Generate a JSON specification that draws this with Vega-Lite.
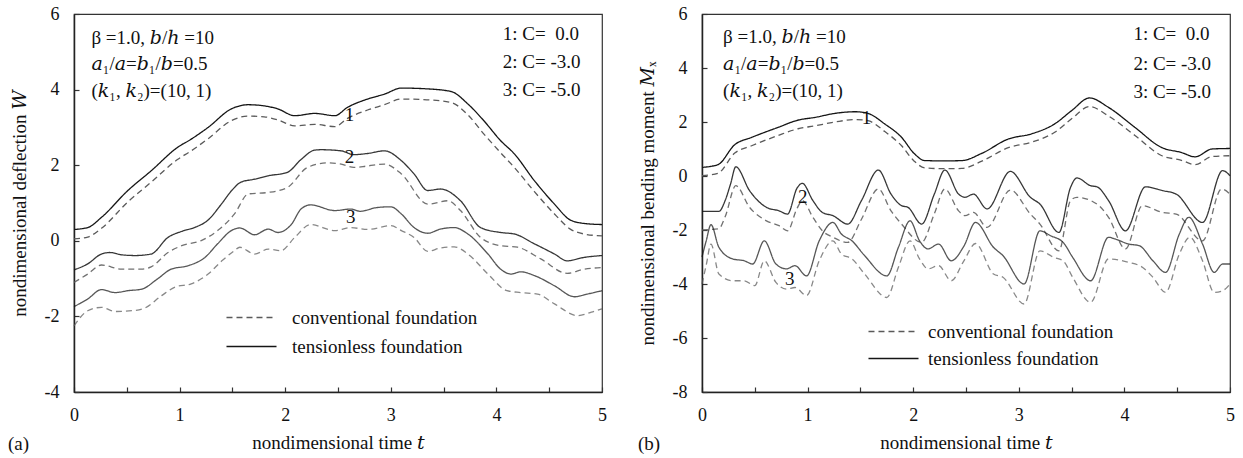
{
  "$schema": "https://vega.github.io/schema/vega-lite/v6.json",
  "background": "white",
  "padding": {"left": 7, "top": 4, "right": 8, "bottom": 4},
  "bounds": "flush",
  "spacing": 100,
  "config": {
    "font": "Liberation Serif",
    "view": {"stroke": "#333", "strokeWidth": 1.2},
    "axis": {
      "grid": false, "domainColor": "#222", "domainWidth": 1.5,
      "tickColor": "#333", "tickSize": -5, "tickWidth": 1.2,
      "labelFont": "Liberation Serif", "labelFontSize": 18, "labelColor": "#111",
      "labelFlush": false, "labelOverlap": false,
      "titleFont": "Liberation Serif, DejaVu Serif", "titleFontSize": 19, "titleFontWeight": "normal", "titleColor": "#111"
    },
    "axisX": {"labelPadding": 19, "titleY": 50, "titleBaseline": "middle"},
    "axisY": {"labelPadding": 20, "titleX": -55, "titleBaseline": "middle"},
    "legend": {"orient": "none", "title": null, "padding": 0, "symbolType": "M-3,0H3", "symbolSize": 278, "symbolStrokeWidth": 1.3, "labelFont": "Liberation Serif", "labelFontSize": 19, "labelColor": "#111", "labelLimit": 400},
    "text": {"font": "Liberation Serif, DejaVu Serif", "fontSize": 19, "color": "#111"}
  },
  "datasets": {
    "deflection": [
      {"curve":"1","foundation":"tensionless foundation","t":0,"value":0.30},
      {"curve":"1","foundation":"tensionless foundation","t":0.13,"value":0.35},
      {"curve":"1","foundation":"tensionless foundation","t":0.26,"value":0.62},
      {"curve":"1","foundation":"tensionless foundation","t":0.51,"value":1.33},
      {"curve":"1","foundation":"tensionless foundation","t":0.73,"value":1.85},
      {"curve":"1","foundation":"tensionless foundation","t":0.98,"value":2.47},
      {"curve":"1","foundation":"tensionless foundation","t":1.11,"value":2.69},
      {"curve":"1","foundation":"tensionless foundation","t":1.27,"value":3.0},
      {"curve":"1","foundation":"tensionless foundation","t":1.49,"value":3.49},
      {"curve":"1","foundation":"tensionless foundation","t":1.65,"value":3.6},
      {"curve":"1","foundation":"tensionless foundation","t":1.8,"value":3.57},
      {"curve":"1","foundation":"tensionless foundation","t":1.93,"value":3.49},
      {"curve":"1","foundation":"tensionless foundation","t":2.09,"value":3.31},
      {"curve":"1","foundation":"tensionless foundation","t":2.28,"value":3.37},
      {"curve":"1","foundation":"tensionless foundation","t":2.47,"value":3.31},
      {"curve":"1","foundation":"tensionless foundation","t":2.59,"value":3.53},
      {"curve":"1","foundation":"tensionless foundation","t":2.78,"value":3.75},
      {"curve":"1","foundation":"tensionless foundation","t":2.94,"value":3.88},
      {"curve":"1","foundation":"tensionless foundation","t":3.1,"value":4.04},
      {"curve":"1","foundation":"tensionless foundation","t":3.34,"value":4.02},
      {"curve":"1","foundation":"tensionless foundation","t":3.57,"value":3.95},
      {"curve":"1","foundation":"tensionless foundation","t":3.73,"value":3.62},
      {"curve":"1","foundation":"tensionless foundation","t":3.88,"value":3.18},
      {"curve":"1","foundation":"tensionless foundation","t":4.04,"value":2.65},
      {"curve":"1","foundation":"tensionless foundation","t":4.17,"value":2.3},
      {"curve":"1","foundation":"tensionless foundation","t":4.36,"value":1.59},
      {"curve":"1","foundation":"tensionless foundation","t":4.55,"value":0.97},
      {"curve":"1","foundation":"tensionless foundation","t":4.7,"value":0.55},
      {"curve":"1","foundation":"tensionless foundation","t":4.83,"value":0.46},
      {"curve":"1","foundation":"tensionless foundation","t":5.0,"value":0.43},
      {"curve":"1","foundation":"conventional foundation","t":0,"value":0.05},
      {"curve":"1","foundation":"conventional foundation","t":0.13,"value":0.1},
      {"curve":"1","foundation":"conventional foundation","t":0.26,"value":0.33},
      {"curve":"1","foundation":"conventional foundation","t":0.51,"value":1.03},
      {"curve":"1","foundation":"conventional foundation","t":0.73,"value":1.55},
      {"curve":"1","foundation":"conventional foundation","t":0.98,"value":2.15},
      {"curve":"1","foundation":"conventional foundation","t":1.11,"value":2.38},
      {"curve":"1","foundation":"conventional foundation","t":1.27,"value":2.7},
      {"curve":"1","foundation":"conventional foundation","t":1.49,"value":3.18},
      {"curve":"1","foundation":"conventional foundation","t":1.65,"value":3.3},
      {"curve":"1","foundation":"conventional foundation","t":1.8,"value":3.28},
      {"curve":"1","foundation":"conventional foundation","t":1.93,"value":3.2},
      {"curve":"1","foundation":"conventional foundation","t":2.09,"value":3.04},
      {"curve":"1","foundation":"conventional foundation","t":2.28,"value":3.08},
      {"curve":"1","foundation":"conventional foundation","t":2.47,"value":3.02},
      {"curve":"1","foundation":"conventional foundation","t":2.59,"value":3.24},
      {"curve":"1","foundation":"conventional foundation","t":2.78,"value":3.46},
      {"curve":"1","foundation":"conventional foundation","t":2.94,"value":3.6},
      {"curve":"1","foundation":"conventional foundation","t":3.1,"value":3.75},
      {"curve":"1","foundation":"conventional foundation","t":3.34,"value":3.73},
      {"curve":"1","foundation":"conventional foundation","t":3.57,"value":3.66},
      {"curve":"1","foundation":"conventional foundation","t":3.73,"value":3.33},
      {"curve":"1","foundation":"conventional foundation","t":3.88,"value":2.83},
      {"curve":"1","foundation":"conventional foundation","t":4.04,"value":2.33},
      {"curve":"1","foundation":"conventional foundation","t":4.17,"value":1.94},
      {"curve":"1","foundation":"conventional foundation","t":4.36,"value":1.3},
      {"curve":"1","foundation":"conventional foundation","t":4.55,"value":0.71},
      {"curve":"1","foundation":"conventional foundation","t":4.7,"value":0.31},
      {"curve":"1","foundation":"conventional foundation","t":4.83,"value":0.18},
      {"curve":"1","foundation":"conventional foundation","t":5.0,"value":0.13},
      {"curve":"2","foundation":"tensionless foundation","t":0,"value":-0.77},
      {"curve":"2","foundation":"tensionless foundation","t":0.13,"value":-0.61},
      {"curve":"2","foundation":"tensionless foundation","t":0.26,"value":-0.35},
      {"curve":"2","foundation":"tensionless foundation","t":0.34,"value":-0.31},
      {"curve":"2","foundation":"tensionless foundation","t":0.45,"value":-0.37},
      {"curve":"2","foundation":"tensionless foundation","t":0.58,"value":-0.39},
      {"curve":"2","foundation":"tensionless foundation","t":0.73,"value":-0.35},
      {"curve":"2","foundation":"tensionless foundation","t":0.89,"value":0.09},
      {"curve":"2","foundation":"tensionless foundation","t":1.02,"value":0.25},
      {"curve":"2","foundation":"tensionless foundation","t":1.14,"value":0.35},
      {"curve":"2","foundation":"tensionless foundation","t":1.27,"value":0.55},
      {"curve":"2","foundation":"tensionless foundation","t":1.39,"value":0.95},
      {"curve":"2","foundation":"tensionless foundation","t":1.5,"value":1.35},
      {"curve":"2","foundation":"tensionless foundation","t":1.58,"value":1.55},
      {"curve":"2","foundation":"tensionless foundation","t":1.71,"value":1.63},
      {"curve":"2","foundation":"tensionless foundation","t":1.84,"value":1.72},
      {"curve":"2","foundation":"tensionless foundation","t":2.02,"value":1.81},
      {"curve":"2","foundation":"tensionless foundation","t":2.15,"value":2.15},
      {"curve":"2","foundation":"tensionless foundation","t":2.28,"value":2.4},
      {"curve":"2","foundation":"tensionless foundation","t":2.34,"value":2.41},
      {"curve":"2","foundation":"tensionless foundation","t":2.53,"value":2.38},
      {"curve":"2","foundation":"tensionless foundation","t":2.65,"value":2.28},
      {"curve":"2","foundation":"tensionless foundation","t":2.78,"value":2.31},
      {"curve":"2","foundation":"tensionless foundation","t":2.94,"value":2.38},
      {"curve":"2","foundation":"tensionless foundation","t":3.1,"value":2.12},
      {"curve":"2","foundation":"tensionless foundation","t":3.22,"value":1.77},
      {"curve":"2","foundation":"tensionless foundation","t":3.35,"value":1.33},
      {"curve":"2","foundation":"tensionless foundation","t":3.47,"value":1.37},
      {"curve":"2","foundation":"tensionless foundation","t":3.66,"value":1.06},
      {"curve":"2","foundation":"tensionless foundation","t":3.85,"value":0.35},
      {"curve":"2","foundation":"tensionless foundation","t":4.04,"value":0.22},
      {"curve":"2","foundation":"tensionless foundation","t":4.17,"value":0.18},
      {"curve":"2","foundation":"tensionless foundation","t":4.36,"value":-0.08},
      {"curve":"2","foundation":"tensionless foundation","t":4.55,"value":-0.35},
      {"curve":"2","foundation":"tensionless foundation","t":4.67,"value":-0.53},
      {"curve":"2","foundation":"tensionless foundation","t":4.83,"value":-0.44},
      {"curve":"2","foundation":"tensionless foundation","t":5.0,"value":-0.39},
      {"curve":"2","foundation":"conventional foundation","t":0,"value":-1.1},
      {"curve":"2","foundation":"conventional foundation","t":0.13,"value":-0.88},
      {"curve":"2","foundation":"conventional foundation","t":0.26,"value":-0.64},
      {"curve":"2","foundation":"conventional foundation","t":0.45,"value":-0.75},
      {"curve":"2","foundation":"conventional foundation","t":0.64,"value":-0.75},
      {"curve":"2","foundation":"conventional foundation","t":0.73,"value":-0.69},
      {"curve":"2","foundation":"conventional foundation","t":0.89,"value":-0.31},
      {"curve":"2","foundation":"conventional foundation","t":1.02,"value":-0.13},
      {"curve":"2","foundation":"conventional foundation","t":1.2,"value":0.0},
      {"curve":"2","foundation":"conventional foundation","t":1.36,"value":0.27},
      {"curve":"2","foundation":"conventional foundation","t":1.52,"value":0.71},
      {"curve":"2","foundation":"conventional foundation","t":1.65,"value":1.24},
      {"curve":"2","foundation":"conventional foundation","t":1.84,"value":1.28},
      {"curve":"2","foundation":"conventional foundation","t":2.02,"value":1.41},
      {"curve":"2","foundation":"conventional foundation","t":2.21,"value":1.94},
      {"curve":"2","foundation":"conventional foundation","t":2.4,"value":2.06},
      {"curve":"2","foundation":"conventional foundation","t":2.53,"value":2.03},
      {"curve":"2","foundation":"conventional foundation","t":2.65,"value":1.94},
      {"curve":"2","foundation":"conventional foundation","t":2.78,"value":1.98},
      {"curve":"2","foundation":"conventional foundation","t":2.94,"value":2.03},
      {"curve":"2","foundation":"conventional foundation","t":3.1,"value":1.77},
      {"curve":"2","foundation":"conventional foundation","t":3.35,"value":0.97},
      {"curve":"2","foundation":"conventional foundation","t":3.54,"value":1.06},
      {"curve":"2","foundation":"conventional foundation","t":3.66,"value":0.8},
      {"curve":"2","foundation":"conventional foundation","t":3.85,"value":0.09},
      {"curve":"2","foundation":"conventional foundation","t":4.04,"value":-0.13},
      {"curve":"2","foundation":"conventional foundation","t":4.2,"value":-0.17},
      {"curve":"2","foundation":"conventional foundation","t":4.42,"value":-0.48},
      {"curve":"2","foundation":"conventional foundation","t":4.67,"value":-0.86},
      {"curve":"2","foundation":"conventional foundation","t":4.83,"value":-0.75},
      {"curve":"2","foundation":"conventional foundation","t":5.0,"value":-0.71},
      {"curve":"3","foundation":"tensionless foundation","t":0,"value":-1.74},
      {"curve":"3","foundation":"tensionless foundation","t":0.13,"value":-1.54},
      {"curve":"3","foundation":"tensionless foundation","t":0.26,"value":-1.29},
      {"curve":"3","foundation":"tensionless foundation","t":0.39,"value":-1.37},
      {"curve":"3","foundation":"tensionless foundation","t":0.51,"value":-1.32},
      {"curve":"3","foundation":"tensionless foundation","t":0.64,"value":-1.28},
      {"curve":"3","foundation":"tensionless foundation","t":0.79,"value":-1.01},
      {"curve":"3","foundation":"tensionless foundation","t":0.92,"value":-0.75},
      {"curve":"3","foundation":"tensionless foundation","t":1.08,"value":-0.66},
      {"curve":"3","foundation":"tensionless foundation","t":1.24,"value":-0.44},
      {"curve":"3","foundation":"tensionless foundation","t":1.36,"value":-0.08},
      {"curve":"3","foundation":"tensionless foundation","t":1.49,"value":0.27},
      {"curve":"3","foundation":"tensionless foundation","t":1.57,"value":0.34},
      {"curve":"3","foundation":"tensionless foundation","t":1.71,"value":0.16},
      {"curve":"3","foundation":"tensionless foundation","t":1.84,"value":0.31},
      {"curve":"3","foundation":"tensionless foundation","t":1.93,"value":0.22},
      {"curve":"3","foundation":"tensionless foundation","t":2.06,"value":0.44},
      {"curve":"3","foundation":"tensionless foundation","t":2.15,"value":0.84},
      {"curve":"3","foundation":"tensionless foundation","t":2.24,"value":0.95},
      {"curve":"3","foundation":"tensionless foundation","t":2.47,"value":0.8},
      {"curve":"3","foundation":"tensionless foundation","t":2.62,"value":0.84},
      {"curve":"3","foundation":"tensionless foundation","t":2.71,"value":0.78},
      {"curve":"3","foundation":"tensionless foundation","t":2.87,"value":0.88},
      {"curve":"3","foundation":"tensionless foundation","t":3.0,"value":0.9},
      {"curve":"3","foundation":"tensionless foundation","t":3.1,"value":0.71},
      {"curve":"3","foundation":"tensionless foundation","t":3.22,"value":0.35},
      {"curve":"3","foundation":"tensionless foundation","t":3.35,"value":0.2},
      {"curve":"3","foundation":"tensionless foundation","t":3.47,"value":0.31},
      {"curve":"3","foundation":"tensionless foundation","t":3.6,"value":0.35},
      {"curve":"3","foundation":"tensionless foundation","t":3.73,"value":0.18},
      {"curve":"3","foundation":"tensionless foundation","t":3.92,"value":-0.35},
      {"curve":"3","foundation":"tensionless foundation","t":4.04,"value":-0.75},
      {"curve":"3","foundation":"tensionless foundation","t":4.14,"value":-0.88},
      {"curve":"3","foundation":"tensionless foundation","t":4.23,"value":-0.82},
      {"curve":"3","foundation":"tensionless foundation","t":4.36,"value":-0.92},
      {"curve":"3","foundation":"tensionless foundation","t":4.55,"value":-1.19},
      {"curve":"3","foundation":"tensionless foundation","t":4.74,"value":-1.48},
      {"curve":"3","foundation":"tensionless foundation","t":4.86,"value":-1.41},
      {"curve":"3","foundation":"tensionless foundation","t":5.0,"value":-1.32},
      {"curve":"3","foundation":"conventional foundation","t":0,"value":-2.25},
      {"curve":"3","foundation":"conventional foundation","t":0.13,"value":-1.85},
      {"curve":"3","foundation":"conventional foundation","t":0.26,"value":-1.76},
      {"curve":"3","foundation":"conventional foundation","t":0.39,"value":-1.87},
      {"curve":"3","foundation":"conventional foundation","t":0.58,"value":-1.84},
      {"curve":"3","foundation":"conventional foundation","t":0.67,"value":-1.78},
      {"curve":"3","foundation":"conventional foundation","t":0.83,"value":-1.45},
      {"curve":"3","foundation":"conventional foundation","t":0.96,"value":-1.22},
      {"curve":"3","foundation":"conventional foundation","t":1.11,"value":-1.14},
      {"curve":"3","foundation":"conventional foundation","t":1.27,"value":-0.88},
      {"curve":"3","foundation":"conventional foundation","t":1.4,"value":-0.53},
      {"curve":"3","foundation":"conventional foundation","t":1.52,"value":-0.26},
      {"curve":"3","foundation":"conventional foundation","t":1.57,"value":-0.17},
      {"curve":"3","foundation":"conventional foundation","t":1.71,"value":-0.35},
      {"curve":"3","foundation":"conventional foundation","t":1.84,"value":-0.22},
      {"curve":"3","foundation":"conventional foundation","t":1.96,"value":-0.26},
      {"curve":"3","foundation":"conventional foundation","t":2.09,"value":0.09},
      {"curve":"3","foundation":"conventional foundation","t":2.24,"value":0.43},
      {"curve":"3","foundation":"conventional foundation","t":2.47,"value":0.27},
      {"curve":"3","foundation":"conventional foundation","t":2.62,"value":0.35},
      {"curve":"3","foundation":"conventional foundation","t":2.78,"value":0.3},
      {"curve":"3","foundation":"conventional foundation","t":3.0,"value":0.4},
      {"curve":"3","foundation":"conventional foundation","t":3.1,"value":0.27},
      {"curve":"3","foundation":"conventional foundation","t":3.22,"value":0.09},
      {"curve":"3","foundation":"conventional foundation","t":3.35,"value":-0.28},
      {"curve":"3","foundation":"conventional foundation","t":3.47,"value":-0.19},
      {"curve":"3","foundation":"conventional foundation","t":3.6,"value":-0.16},
      {"curve":"3","foundation":"conventional foundation","t":3.73,"value":-0.35},
      {"curve":"3","foundation":"conventional foundation","t":3.92,"value":-0.88},
      {"curve":"3","foundation":"conventional foundation","t":4.1,"value":-1.32},
      {"curve":"3","foundation":"conventional foundation","t":4.23,"value":-1.37},
      {"curve":"3","foundation":"conventional foundation","t":4.39,"value":-1.41},
      {"curve":"3","foundation":"conventional foundation","t":4.55,"value":-1.67},
      {"curve":"3","foundation":"conventional foundation","t":4.77,"value":-1.98},
      {"curve":"3","foundation":"conventional foundation","t":4.9,"value":-1.89},
      {"curve":"3","foundation":"conventional foundation","t":5.0,"value":-1.8}
    ],
    "moment": [
      {"curve":"1","foundation":"tensionless foundation","t":0,"value":0.32},
      {"curve":"1","foundation":"tensionless foundation","t":0.15,"value":0.42},
      {"curve":"1","foundation":"tensionless foundation","t":0.31,"value":1.16},
      {"curve":"1","foundation":"tensionless foundation","t":0.47,"value":1.43},
      {"curve":"1","foundation":"tensionless foundation","t":0.72,"value":1.8},
      {"curve":"1","foundation":"tensionless foundation","t":0.91,"value":2.07},
      {"curve":"1","foundation":"tensionless foundation","t":1.07,"value":2.17},
      {"curve":"1","foundation":"tensionless foundation","t":1.26,"value":2.32},
      {"curve":"1","foundation":"tensionless foundation","t":1.45,"value":2.38},
      {"curve":"1","foundation":"tensionless foundation","t":1.57,"value":2.32},
      {"curve":"1","foundation":"tensionless foundation","t":1.73,"value":1.93},
      {"curve":"1","foundation":"tensionless foundation","t":1.89,"value":1.43},
      {"curve":"1","foundation":"tensionless foundation","t":2.01,"value":0.83},
      {"curve":"1","foundation":"tensionless foundation","t":2.11,"value":0.57},
      {"curve":"1","foundation":"tensionless foundation","t":2.3,"value":0.56},
      {"curve":"1","foundation":"tensionless foundation","t":2.46,"value":0.57},
      {"curve":"1","foundation":"tensionless foundation","t":2.65,"value":0.84},
      {"curve":"1","foundation":"tensionless foundation","t":2.9,"value":1.37},
      {"curve":"1","foundation":"tensionless foundation","t":3.12,"value":1.56},
      {"curve":"1","foundation":"tensionless foundation","t":3.34,"value":1.93},
      {"curve":"1","foundation":"tensionless foundation","t":3.5,"value":2.42},
      {"curve":"1","foundation":"tensionless foundation","t":3.67,"value":2.89},
      {"curve":"1","foundation":"tensionless foundation","t":3.85,"value":2.54},
      {"curve":"1","foundation":"tensionless foundation","t":4.1,"value":1.8},
      {"curve":"1","foundation":"tensionless foundation","t":4.35,"value":1.06},
      {"curve":"1","foundation":"tensionless foundation","t":4.54,"value":0.87},
      {"curve":"1","foundation":"tensionless foundation","t":4.67,"value":0.71},
      {"curve":"1","foundation":"tensionless foundation","t":4.83,"value":1.0},
      {"curve":"1","foundation":"tensionless foundation","t":5.0,"value":1.02},
      {"curve":"1","foundation":"conventional foundation","t":0,"value":0.01},
      {"curve":"1","foundation":"conventional foundation","t":0.15,"value":0.1},
      {"curve":"1","foundation":"conventional foundation","t":0.31,"value":0.85},
      {"curve":"1","foundation":"conventional foundation","t":0.47,"value":1.12},
      {"curve":"1","foundation":"conventional foundation","t":0.72,"value":1.5},
      {"curve":"1","foundation":"conventional foundation","t":0.91,"value":1.75},
      {"curve":"1","foundation":"conventional foundation","t":1.07,"value":1.86},
      {"curve":"1","foundation":"conventional foundation","t":1.26,"value":2.0},
      {"curve":"1","foundation":"conventional foundation","t":1.45,"value":2.09},
      {"curve":"1","foundation":"conventional foundation","t":1.57,"value":2.05},
      {"curve":"1","foundation":"conventional foundation","t":1.73,"value":1.65},
      {"curve":"1","foundation":"conventional foundation","t":1.89,"value":1.12},
      {"curve":"1","foundation":"conventional foundation","t":2.01,"value":0.55},
      {"curve":"1","foundation":"conventional foundation","t":2.11,"value":0.3},
      {"curve":"1","foundation":"conventional foundation","t":2.3,"value":0.27},
      {"curve":"1","foundation":"conventional foundation","t":2.46,"value":0.28},
      {"curve":"1","foundation":"conventional foundation","t":2.65,"value":0.55},
      {"curve":"1","foundation":"conventional foundation","t":2.9,"value":1.05},
      {"curve":"1","foundation":"conventional foundation","t":3.12,"value":1.25},
      {"curve":"1","foundation":"conventional foundation","t":3.34,"value":1.62},
      {"curve":"1","foundation":"conventional foundation","t":3.5,"value":2.12},
      {"curve":"1","foundation":"conventional foundation","t":3.67,"value":2.57},
      {"curve":"1","foundation":"conventional foundation","t":3.85,"value":2.22},
      {"curve":"1","foundation":"conventional foundation","t":4.1,"value":1.5},
      {"curve":"1","foundation":"conventional foundation","t":4.35,"value":0.76},
      {"curve":"1","foundation":"conventional foundation","t":4.54,"value":0.58},
      {"curve":"1","foundation":"conventional foundation","t":4.67,"value":0.42},
      {"curve":"1","foundation":"conventional foundation","t":4.83,"value":0.72},
      {"curve":"1","foundation":"conventional foundation","t":5.0,"value":0.75},
      {"curve":"2","foundation":"tensionless foundation","t":0,"value":-1.31},
      {"curve":"2","foundation":"tensionless foundation","t":0.16,"value":-1.31},
      {"curve":"2","foundation":"tensionless foundation","t":0.22,"value":-0.9},
      {"curve":"2","foundation":"tensionless foundation","t":0.27,"value":-0.3},
      {"curve":"2","foundation":"tensionless foundation","t":0.32,"value":0.34},
      {"curve":"2","foundation":"tensionless foundation","t":0.45,"value":-0.54},
      {"curve":"2","foundation":"tensionless foundation","t":0.61,"value":-1.16},
      {"curve":"2","foundation":"tensionless foundation","t":0.73,"value":-1.29},
      {"curve":"2","foundation":"tensionless foundation","t":0.81,"value":-1.41},
      {"curve":"2","foundation":"tensionless foundation","t":0.9,"value":-0.45},
      {"curve":"2","foundation":"tensionless foundation","t":0.95,"value":-0.27},
      {"curve":"2","foundation":"tensionless foundation","t":1.05,"value":-0.91},
      {"curve":"2","foundation":"tensionless foundation","t":1.14,"value":-1.35},
      {"curve":"2","foundation":"tensionless foundation","t":1.24,"value":-1.47},
      {"curve":"2","foundation":"tensionless foundation","t":1.38,"value":-1.78},
      {"curve":"2","foundation":"tensionless foundation","t":1.51,"value":-0.91},
      {"curve":"2","foundation":"tensionless foundation","t":1.67,"value":0.22},
      {"curve":"2","foundation":"tensionless foundation","t":1.79,"value":-0.67},
      {"curve":"2","foundation":"tensionless foundation","t":1.89,"value":-1.1},
      {"curve":"2","foundation":"tensionless foundation","t":1.95,"value":-1.16},
      {"curve":"2","foundation":"tensionless foundation","t":2.08,"value":-1.78},
      {"curve":"2","foundation":"tensionless foundation","t":2.2,"value":-0.67},
      {"curve":"2","foundation":"tensionless foundation","t":2.3,"value":0.22},
      {"curve":"2","foundation":"tensionless foundation","t":2.43,"value":-0.67},
      {"curve":"2","foundation":"tensionless foundation","t":2.49,"value":-0.79},
      {"curve":"2","foundation":"tensionless foundation","t":2.57,"value":-0.67},
      {"curve":"2","foundation":"tensionless foundation","t":2.7,"value":-1.22},
      {"curve":"2","foundation":"tensionless foundation","t":2.92,"value":0.17},
      {"curve":"2","foundation":"tensionless foundation","t":3.11,"value":-0.79},
      {"curve":"2","foundation":"tensionless foundation","t":3.2,"value":-1.04},
      {"curve":"2","foundation":"tensionless foundation","t":3.38,"value":-2.09},
      {"curve":"2","foundation":"tensionless foundation","t":3.49,"value":-0.42},
      {"curve":"2","foundation":"tensionless foundation","t":3.55,"value":-0.07},
      {"curve":"2","foundation":"tensionless foundation","t":3.68,"value":-0.36},
      {"curve":"2","foundation":"tensionless foundation","t":3.74,"value":-0.4},
      {"curve":"2","foundation":"tensionless foundation","t":3.85,"value":-0.91},
      {"curve":"2","foundation":"tensionless foundation","t":4.01,"value":-2.03},
      {"curve":"2","foundation":"tensionless foundation","t":4.2,"value":-0.4},
      {"curve":"2","foundation":"tensionless foundation","t":4.36,"value":-0.54},
      {"curve":"2","foundation":"tensionless foundation","t":4.49,"value":-0.67},
      {"curve":"2","foundation":"tensionless foundation","t":4.74,"value":-1.72},
      {"curve":"2","foundation":"tensionless foundation","t":4.93,"value":0.2},
      {"curve":"2","foundation":"tensionless foundation","t":5.0,"value":0.01},
      {"curve":"2","foundation":"conventional foundation","t":0,"value":-2.0},
      {"curve":"2","foundation":"conventional foundation","t":0.16,"value":-1.95},
      {"curve":"2","foundation":"conventional foundation","t":0.22,"value":-1.5},
      {"curve":"2","foundation":"conventional foundation","t":0.32,"value":-0.36},
      {"curve":"2","foundation":"conventional foundation","t":0.45,"value":-1.16},
      {"curve":"2","foundation":"conventional foundation","t":0.61,"value":-1.66},
      {"curve":"2","foundation":"conventional foundation","t":0.73,"value":-1.84},
      {"curve":"2","foundation":"conventional foundation","t":0.81,"value":-2.03},
      {"curve":"2","foundation":"conventional foundation","t":0.9,"value":-1.2},
      {"curve":"2","foundation":"conventional foundation","t":0.95,"value":-0.91},
      {"curve":"2","foundation":"conventional foundation","t":1.05,"value":-1.53},
      {"curve":"2","foundation":"conventional foundation","t":1.14,"value":-2.03},
      {"curve":"2","foundation":"conventional foundation","t":1.24,"value":-2.27},
      {"curve":"2","foundation":"conventional foundation","t":1.38,"value":-2.46},
      {"curve":"2","foundation":"conventional foundation","t":1.51,"value":-1.6},
      {"curve":"2","foundation":"conventional foundation","t":1.67,"value":-0.48},
      {"curve":"2","foundation":"conventional foundation","t":1.79,"value":-1.29},
      {"curve":"2","foundation":"conventional foundation","t":1.89,"value":-1.78},
      {"curve":"2","foundation":"conventional foundation","t":2.08,"value":-2.46},
      {"curve":"2","foundation":"conventional foundation","t":2.2,"value":-1.4},
      {"curve":"2","foundation":"conventional foundation","t":2.3,"value":-0.48},
      {"curve":"2","foundation":"conventional foundation","t":2.43,"value":-1.29},
      {"curve":"2","foundation":"conventional foundation","t":2.49,"value":-1.47},
      {"curve":"2","foundation":"conventional foundation","t":2.57,"value":-1.35},
      {"curve":"2","foundation":"conventional foundation","t":2.7,"value":-1.9},
      {"curve":"2","foundation":"conventional foundation","t":2.92,"value":-0.52},
      {"curve":"2","foundation":"conventional foundation","t":3.11,"value":-1.41},
      {"curve":"2","foundation":"conventional foundation","t":3.2,"value":-1.78},
      {"curve":"2","foundation":"conventional foundation","t":3.38,"value":-2.77},
      {"curve":"2","foundation":"conventional foundation","t":3.49,"value":-0.91},
      {"curve":"2","foundation":"conventional foundation","t":3.55,"value":-0.79},
      {"curve":"2","foundation":"conventional foundation","t":3.74,"value":-1.04},
      {"curve":"2","foundation":"conventional foundation","t":3.85,"value":-1.53},
      {"curve":"2","foundation":"conventional foundation","t":4.01,"value":-2.7},
      {"curve":"2","foundation":"conventional foundation","t":4.17,"value":-1.1},
      {"curve":"2","foundation":"conventional foundation","t":4.36,"value":-1.35},
      {"curve":"2","foundation":"conventional foundation","t":4.49,"value":-1.41},
      {"curve":"2","foundation":"conventional foundation","t":4.74,"value":-2.4},
      {"curve":"2","foundation":"conventional foundation","t":4.92,"value":-0.48},
      {"curve":"2","foundation":"conventional foundation","t":5.0,"value":-0.67},
      {"curve":"3","foundation":"tensionless foundation","t":0,"value":-3.0},
      {"curve":"3","foundation":"tensionless foundation","t":0.04,"value":-2.4},
      {"curve":"3","foundation":"tensionless foundation","t":0.085,"value":-1.8},
      {"curve":"3","foundation":"tensionless foundation","t":0.16,"value":-2.64},
      {"curve":"3","foundation":"tensionless foundation","t":0.29,"value":-3.07},
      {"curve":"3","foundation":"tensionless foundation","t":0.4,"value":-3.14},
      {"curve":"3","foundation":"tensionless foundation","t":0.48,"value":-3.26},
      {"curve":"3","foundation":"tensionless foundation","t":0.59,"value":-2.4},
      {"curve":"3","foundation":"tensionless foundation","t":0.7,"value":-3.26},
      {"curve":"3","foundation":"tensionless foundation","t":0.8,"value":-3.44},
      {"curve":"3","foundation":"tensionless foundation","t":0.88,"value":-3.32},
      {"curve":"3","foundation":"tensionless foundation","t":0.99,"value":-3.7},
      {"curve":"3","foundation":"tensionless foundation","t":1.11,"value":-2.4},
      {"curve":"3","foundation":"tensionless foundation","t":1.24,"value":-1.72},
      {"curve":"3","foundation":"tensionless foundation","t":1.32,"value":-2.15},
      {"curve":"3","foundation":"tensionless foundation","t":1.42,"value":-2.4},
      {"curve":"3","foundation":"tensionless foundation","t":1.54,"value":-2.95},
      {"curve":"3","foundation":"tensionless foundation","t":1.75,"value":-3.7},
      {"curve":"3","foundation":"tensionless foundation","t":1.86,"value":-2.64},
      {"curve":"3","foundation":"tensionless foundation","t":1.97,"value":-1.66},
      {"curve":"3","foundation":"tensionless foundation","t":2.06,"value":-2.4},
      {"curve":"3","foundation":"tensionless foundation","t":2.14,"value":-2.7},
      {"curve":"3","foundation":"tensionless foundation","t":2.24,"value":-2.52},
      {"curve":"3","foundation":"tensionless foundation","t":2.36,"value":-3.14},
      {"curve":"3","foundation":"tensionless foundation","t":2.48,"value":-2.6},
      {"curve":"3","foundation":"tensionless foundation","t":2.59,"value":-1.72},
      {"curve":"3","foundation":"tensionless foundation","t":2.76,"value":-2.64},
      {"curve":"3","foundation":"tensionless foundation","t":2.85,"value":-2.95},
      {"curve":"3","foundation":"tensionless foundation","t":3.05,"value":-4.0},
      {"curve":"3","foundation":"tensionless foundation","t":3.2,"value":-2.03},
      {"curve":"3","foundation":"tensionless foundation","t":3.3,"value":-2.21},
      {"curve":"3","foundation":"tensionless foundation","t":3.42,"value":-2.46},
      {"curve":"3","foundation":"tensionless foundation","t":3.51,"value":-3.01},
      {"curve":"3","foundation":"tensionless foundation","t":3.68,"value":-3.88},
      {"curve":"3","foundation":"tensionless foundation","t":3.85,"value":-2.27},
      {"curve":"3","foundation":"tensionless foundation","t":3.91,"value":-2.33},
      {"curve":"3","foundation":"tensionless foundation","t":4.04,"value":-2.52},
      {"curve":"3","foundation":"tensionless foundation","t":4.14,"value":-2.58},
      {"curve":"3","foundation":"tensionless foundation","t":4.27,"value":-3.14},
      {"curve":"3","foundation":"tensionless foundation","t":4.39,"value":-3.57},
      {"curve":"3","foundation":"tensionless foundation","t":4.52,"value":-2.15},
      {"curve":"3","foundation":"tensionless foundation","t":4.61,"value":-1.53},
      {"curve":"3","foundation":"tensionless foundation","t":4.74,"value":-2.52},
      {"curve":"3","foundation":"tensionless foundation","t":4.85,"value":-3.57},
      {"curve":"3","foundation":"tensionless foundation","t":4.93,"value":-3.26},
      {"curve":"3","foundation":"tensionless foundation","t":5.0,"value":-3.26},
      {"curve":"3","foundation":"conventional foundation","t":0,"value":-4.0},
      {"curve":"3","foundation":"conventional foundation","t":0.04,"value":-3.3},
      {"curve":"3","foundation":"conventional foundation","t":0.085,"value":-2.52},
      {"curve":"3","foundation":"conventional foundation","t":0.16,"value":-3.63},
      {"curve":"3","foundation":"conventional foundation","t":0.29,"value":-3.88},
      {"curve":"3","foundation":"conventional foundation","t":0.4,"value":-3.88},
      {"curve":"3","foundation":"conventional foundation","t":0.5,"value":-4.06},
      {"curve":"3","foundation":"conventional foundation","t":0.59,"value":-3.14},
      {"curve":"3","foundation":"conventional foundation","t":0.7,"value":-3.94},
      {"curve":"3","foundation":"conventional foundation","t":0.8,"value":-4.19},
      {"curve":"3","foundation":"conventional foundation","t":0.88,"value":-4.13},
      {"curve":"3","foundation":"conventional foundation","t":0.99,"value":-4.43},
      {"curve":"3","foundation":"conventional foundation","t":1.11,"value":-3.14},
      {"curve":"3","foundation":"conventional foundation","t":1.24,"value":-2.4},
      {"curve":"3","foundation":"conventional foundation","t":1.32,"value":-2.89},
      {"curve":"3","foundation":"conventional foundation","t":1.42,"value":-3.07},
      {"curve":"3","foundation":"conventional foundation","t":1.54,"value":-3.63},
      {"curve":"3","foundation":"conventional foundation","t":1.75,"value":-4.5},
      {"curve":"3","foundation":"conventional foundation","t":1.86,"value":-3.38},
      {"curve":"3","foundation":"conventional foundation","t":1.97,"value":-2.4},
      {"curve":"3","foundation":"conventional foundation","t":2.06,"value":-3.07},
      {"curve":"3","foundation":"conventional foundation","t":2.14,"value":-3.44},
      {"curve":"3","foundation":"conventional foundation","t":2.24,"value":-3.32},
      {"curve":"3","foundation":"conventional foundation","t":2.36,"value":-3.88},
      {"curve":"3","foundation":"conventional foundation","t":2.48,"value":-3.14},
      {"curve":"3","foundation":"conventional foundation","t":2.59,"value":-2.5},
      {"curve":"3","foundation":"conventional foundation","t":2.76,"value":-3.63},
      {"curve":"3","foundation":"conventional foundation","t":2.85,"value":-3.75},
      {"curve":"3","foundation":"conventional foundation","t":3.05,"value":-4.74},
      {"curve":"3","foundation":"conventional foundation","t":3.2,"value":-2.77},
      {"curve":"3","foundation":"conventional foundation","t":3.33,"value":-3.01},
      {"curve":"3","foundation":"conventional foundation","t":3.42,"value":-3.14},
      {"curve":"3","foundation":"conventional foundation","t":3.51,"value":-3.75},
      {"curve":"3","foundation":"conventional foundation","t":3.68,"value":-4.68},
      {"curve":"3","foundation":"conventional foundation","t":3.85,"value":-3.07},
      {"curve":"3","foundation":"conventional foundation","t":4.04,"value":-3.2},
      {"curve":"3","foundation":"conventional foundation","t":4.17,"value":-3.38},
      {"curve":"3","foundation":"conventional foundation","t":4.27,"value":-3.75},
      {"curve":"3","foundation":"conventional foundation","t":4.39,"value":-4.31},
      {"curve":"3","foundation":"conventional foundation","t":4.52,"value":-2.89},
      {"curve":"3","foundation":"conventional foundation","t":4.62,"value":-2.27},
      {"curve":"3","foundation":"conventional foundation","t":4.74,"value":-3.14},
      {"curve":"3","foundation":"conventional foundation","t":4.85,"value":-4.31},
      {"curve":"3","foundation":"conventional foundation","t":4.93,"value":-4.25},
      {"curve":"3","foundation":"conventional foundation","t":5.0,"value":-4.0}
    ]
  },
  "hconcat": [
    {
      "width": 528, "height": 378,
      "title": {"text": "(a)", "orient": "bottom", "anchor": "start", "frame": "group", "dx": -66, "offset": -8, "baseline": "middle", "font": "Liberation Serif", "fontSize": 19, "fontWeight": "normal", "color": "#111"},
      "layer": [
        {
          "data": {"name": "deflection"},
          "mark": {"type": "line", "interpolate": "monotone", "strokeWidth": 1.3},
          "encoding": {
            "x": {"field": "t", "type": "quantitative", "scale": {"domain": [0, 5], "nice": false},
                  "axis": {"title": "nondimensional time 𝑡", "values": [0,0.5,1,1.5,2,2.5,3,3.5,4,4.5,5], "labelExpr": "datum.value % 1 === 0 ? '' + datum.value : ''"}},
            "y": {"field": "value", "type": "quantitative", "scale": {"domain": [-4, 6], "nice": false},
                  "axis": {"title": "nondimensional deflection 𝑊", "values": [-4,-3,-2,-1,0,1,2,3,4,5,6], "labelExpr": "datum.value % 2 === 0 ? '' + datum.value : ''"}},
            "color": {"field": "foundation", "type": "nominal",
                      "scale": {"domain": ["conventional foundation", "tensionless foundation"], "range": ["#5a5a5a", "#151515"]},
                      "legend": {"legendX": 168, "legendY": 294, "labelOffset": 31, "rowPadding": 9}},
            "strokeDash": {"field": "foundation", "type": "nominal",
                      "scale": {"domain": ["conventional foundation", "tensionless foundation"], "range": [[6, 4], [1, 0]]},
                      "legend": {"legendX": 168, "legendY": 294, "labelOffset": 31, "rowPadding": 9}},
            "opacity": {"field": "curve", "type": "nominal", "scale": {"domain": ["1", "2", "3"], "range": [1, 0.72, 0.72]}, "legend": null},
            "detail": {"field": "curve"}
          }
        },
        {"data": {"values": [{}]}, "mark": {"type": "text", "align": "left", "baseline": "middle"},
         "encoding": {"x": {"datum": 0.165}, "y": {"datum": 5.37}, "text": {"value": "β =1.0, 𝑏/ℎ =10"}}},
        {"data": {"values": [{}]}, "mark": {"type": "text", "align": "left", "baseline": "middle"},
         "encoding": {"x": {"datum": 0.165}, "y": {"datum": 4.68}, "text": {"value": "𝑎₁/𝑎=𝑏₁/𝑏=0.5"}}},
        {"data": {"values": [{}]}, "mark": {"type": "text", "align": "left", "baseline": "middle"},
         "encoding": {"x": {"datum": 0.165}, "y": {"datum": 3.97}, "text": {"value": "(𝑘₁, 𝑘₂)=(10, 1)"}}},
        {"data": {"values": [{}]}, "mark": {"type": "text", "align": "left", "baseline": "middle"},
         "encoding": {"x": {"datum": 4.06}, "y": {"datum": 5.47}, "text": {"value": "1: C=\u00a0 0.0"}}},
        {"data": {"values": [{}]}, "mark": {"type": "text", "align": "left", "baseline": "middle"},
         "encoding": {"x": {"datum": 4.06}, "y": {"datum": 4.72}, "text": {"value": "2: C= -3.0"}}},
        {"data": {"values": [{}]}, "mark": {"type": "text", "align": "left", "baseline": "middle"},
         "encoding": {"x": {"datum": 4.06}, "y": {"datum": 3.99}, "text": {"value": "3: C= -5.0"}}},
        {"data": {"values": [{}]}, "mark": {"type": "text", "align": "center", "baseline": "middle"},
         "encoding": {"x": {"datum": 2.61}, "y": {"datum": 3.34}, "text": {"value": "1"}}},
        {"data": {"values": [{}]}, "mark": {"type": "text", "align": "center", "baseline": "middle"},
         "encoding": {"x": {"datum": 2.61}, "y": {"datum": 2.21}, "text": {"value": "2"}}},
        {"data": {"values": [{}]}, "mark": {"type": "text", "align": "center", "baseline": "middle"},
         "encoding": {"x": {"datum": 2.62}, "y": {"datum": 0.62}, "text": {"value": "3"}}}
      ]
    },
    {
      "width": 528, "height": 378,
      "title": {"text": "(b)", "orient": "bottom", "anchor": "start", "frame": "group", "dx": -64, "offset": -8, "baseline": "middle", "font": "Liberation Serif", "fontSize": 19, "fontWeight": "normal", "color": "#111"},
      "layer": [
        {
          "data": {"name": "moment"},
          "mark": {"type": "line", "interpolate": "monotone", "strokeWidth": 1.3},
          "encoding": {
            "x": {"field": "t", "type": "quantitative", "scale": {"domain": [0, 5], "nice": false},
                  "axis": {"title": "nondimensional time 𝑡", "values": [0,0.5,1,1.5,2,2.5,3,3.5,4,4.5,5], "labelExpr": "datum.value % 1 === 0 ? '' + datum.value : ''"}},
            "y": {"field": "value", "type": "quantitative", "scale": {"domain": [-8, 6], "nice": false},
                  "axis": {"title": "nondimensional bending moment 𝑀ₓ", "values": [-8,-7,-6,-5,-4,-3,-2,-1,0,1,2,3,4,5,6], "labelExpr": "datum.value % 2 === 0 ? '' + datum.value : ''"}},
            "color": {"field": "foundation", "type": "nominal",
                      "scale": {"domain": ["conventional foundation", "tensionless foundation"], "range": ["#5a5a5a", "#151515"]},
                      "legend": {"legendX": 182, "legendY": 308, "labelOffset": 25, "rowPadding": 7}},
            "strokeDash": {"field": "foundation", "type": "nominal",
                      "scale": {"domain": ["conventional foundation", "tensionless foundation"], "range": [[6, 4], [1, 0]]},
                      "legend": {"legendX": 182, "legendY": 308, "labelOffset": 25, "rowPadding": 7}},
            "opacity": {"field": "curve", "type": "nominal", "scale": {"domain": ["1", "2", "3"], "range": [1, 0.72, 0.72]}, "legend": null},
            "detail": {"field": "curve"}
          }
        },
        {"data": {"values": [{}]}, "mark": {"type": "text", "align": "left", "baseline": "middle"},
         "encoding": {"x": {"datum": 0.2}, "y": {"datum": 5.13}, "text": {"value": "β =1.0, 𝑏/ℎ =10"}}},
        {"data": {"values": [{}]}, "mark": {"type": "text", "align": "left", "baseline": "middle"},
         "encoding": {"x": {"datum": 0.2}, "y": {"datum": 4.15}, "text": {"value": "𝑎₁/𝑎=𝑏₁/𝑏=0.5"}}},
        {"data": {"values": [{}]}, "mark": {"type": "text", "align": "left", "baseline": "middle"},
         "encoding": {"x": {"datum": 0.2}, "y": {"datum": 3.16}, "text": {"value": "(𝑘₁, 𝑘₂)=(10, 1)"}}},
        {"data": {"values": [{}]}, "mark": {"type": "text", "align": "left", "baseline": "middle"},
         "encoding": {"x": {"datum": 4.085}, "y": {"datum": 5.26}, "text": {"value": "1: C=\u00a0 0.0"}}},
        {"data": {"values": [{}]}, "mark": {"type": "text", "align": "left", "baseline": "middle"},
         "encoding": {"x": {"datum": 4.085}, "y": {"datum": 4.15}, "text": {"value": "2: C= -3.0"}}},
        {"data": {"values": [{}]}, "mark": {"type": "text", "align": "left", "baseline": "middle"},
         "encoding": {"x": {"datum": 4.085}, "y": {"datum": 3.1}, "text": {"value": "3: C= -5.0"}}},
        {"data": {"values": [{}]}, "mark": {"type": "text", "align": "center", "baseline": "middle"},
         "encoding": {"x": {"datum": 1.557}, "y": {"datum": 2.14}, "text": {"value": "1"}}},
        {"data": {"values": [{}]}, "mark": {"type": "text", "align": "center", "baseline": "middle"},
         "encoding": {"x": {"datum": 0.954}, "y": {"datum": -0.79}, "text": {"value": "2"}}},
        {"data": {"values": [{}]}, "mark": {"type": "text", "align": "center", "baseline": "middle"},
         "encoding": {"x": {"datum": 0.83}, "y": {"datum": -3.81}, "text": {"value": "3"}}}
      ]
    }
  ],
  "resolve": {
    "scale": {"color": "independent", "strokeDash": "independent", "opacity": "independent"},
    "legend": {"color": "independent", "strokeDash": "independent"}
  }
}
